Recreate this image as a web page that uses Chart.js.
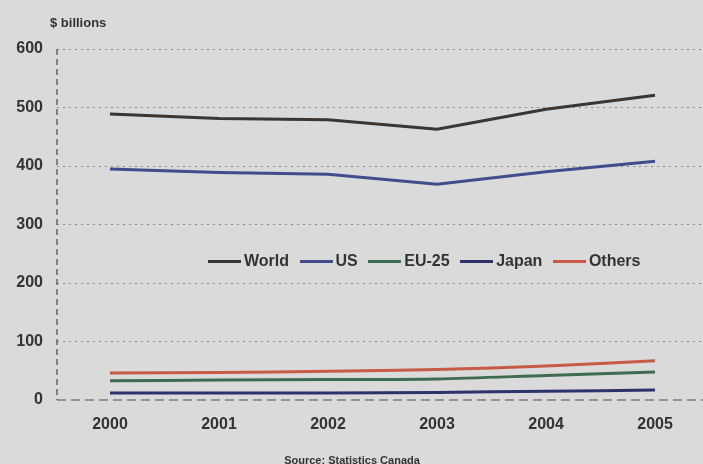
<!DOCTYPE html>
<html>
<head>
<meta charset="utf-8">
<script src="https://cdn.jsdelivr.net/npm/chart.js@4/dist/chart.umd.min.js"></script>
<style>
  html, body { margin: 0; padding: 0; background: #dadada; }
  #wrap { position: relative; width: 703px; height: 464px; }
  #legend { position: absolute; left: 208px; top: 252px; display: flex; align-items: center;
    font: bold 16px "Liberation Sans", Arial, sans-serif; color: #333333; }
  #legend span.item { display: flex; align-items: center; margin-right: 10.5px; }
  #legend span.swatch { display: inline-block; width: 33px; height: 3px; margin-right: 3px; }
</style>
</head>
<body>
<div id="wrap">
  <canvas id="chart" width="703" height="464"></canvas>
  <div id="legend"></div>
</div>
<script>
const years = [2000, 2001, 2002, 2003, 2004, 2005];
const world = [489, 481, 479, 463, 497, 521];
const us = [395, 389, 386, 369, 390, 408];
const eu25 = [33, 34, 35, 36, 42, 48];
const japan = [12, 12, 12, 13, 15, 17];
const others = [46, 47, 49, 52, 58, 67];
const yTicks = [0, 100, 200, 300, 400, 500, 600];

const seriesNames = ['World', 'US', 'EU-25', 'Japan', 'Others'];
const seriesValues = [world, us, eu25, japan, others];
const seriesColors = ['#3b3631', '#414c8c', '#3f6b52', '#2f316d', '#c55a45'];
const seriesTension = [0, 0, 0.3, 0.3, 0.3];

const font = '"Liberation Sans", Arial, sans-serif';

const decorations = {
    id: 'decorations',
    beforeDraw: (chart) => {
        const ctx = chart.ctx;
        ctx.save();
        ctx.fillStyle = '#dadada';
        ctx.fillRect(0, 0, chart.width, chart.height);
        ctx.restore();
    },
    afterDraw: (chart) => {
        const ctx = chart.ctx;
        const { top, bottom, left, right } = chart.chartArea;
        ctx.save();
        ctx.strokeStyle = '#4a4a4a';
        ctx.lineWidth = 1.2;
        ctx.setLineDash([6, 4]);
        ctx.beginPath();
        ctx.moveTo(left, top);
        ctx.lineTo(left, bottom);
        ctx.stroke();
        ctx.setLineDash([9, 5]);
        ctx.beginPath();
        ctx.moveTo(left, bottom);
        ctx.lineTo(right, bottom);
        ctx.stroke();
        ctx.setLineDash([]);
        ctx.fillStyle = '#333333';
        ctx.font = 'bold 13px ' + font;
        ctx.textBaseline = 'middle';
        ctx.textAlign = 'left';
        ctx.fillText('$ billions', 50, 23);
        ctx.font = 'bold 11px ' + font;
        ctx.textAlign = 'center';
        ctx.fillText('Source: Statistics Canada', 352, 461);
        ctx.restore();
    }
};

const datasets = seriesNames.map((name, i) => ({
    label: name,
    data: years.map((yr, j) => ({ x: yr, y: seriesValues[i][j] })),
    borderColor: seriesColors[i],
    backgroundColor: seriesColors[i],
    borderWidth: 3,
    pointRadius: 0,
    tension: seriesTension[i],
    fill: false
}));

new Chart(document.getElementById('chart'), {
    type: 'line',
    data: { datasets: datasets },
    plugins: [decorations],
    options: {
        responsive: false,
        animation: false,
        layout: { padding: { top: 49, right: 0, bottom: 0, left: 0 } },
        plugins: {
            legend: { display: false },
            tooltip: { enabled: false }
        },
        scales: {
            x: {
                type: 'linear',
                min: 1999.514,
                max: 2005.44,
                afterBuildTicks: (axis) => { axis.ticks = years.map(v => ({ value: v })); },
                afterFit: (axis) => { axis.height = 64; },
                grid: { display: false, drawTicks: false },
                border: { display: false },
                ticks: {
                    padding: 15,
                    color: '#333333',
                    font: { family: font, size: 16, weight: 'bold' },
                    callback: (v) => String(v),
                    maxRotation: 0
                }
            },
            y: {
                min: 0,
                max: 600,
                afterBuildTicks: (axis) => { axis.ticks = yTicks.map(v => ({ value: v })); },
                afterFit: (axis) => { axis.width = 57; },
                grid: {
                    drawTicks: false,
                    lineWidth: 1,
                    color: (c) => c.tick && c.tick.value === 0 ? 'rgba(0,0,0,0)' : '#8a8a8a'
                },
                border: { display: false, dash: [2, 4] },
                ticks: {
                    padding: 14,
                    color: '#333333',
                    font: { family: font, size: 16, weight: 'bold' }
                }
            }
        }
    }
});

const legend = document.getElementById('legend');
seriesNames.forEach((name, i) => {
    const item = document.createElement('span');
    item.className = 'item';
    const sw = document.createElement('span');
    sw.className = 'swatch';
    sw.style.background = seriesColors[i];
    item.appendChild(sw);
    item.appendChild(document.createTextNode(name));
    legend.appendChild(item);
});
</script>
</body>
</html>
